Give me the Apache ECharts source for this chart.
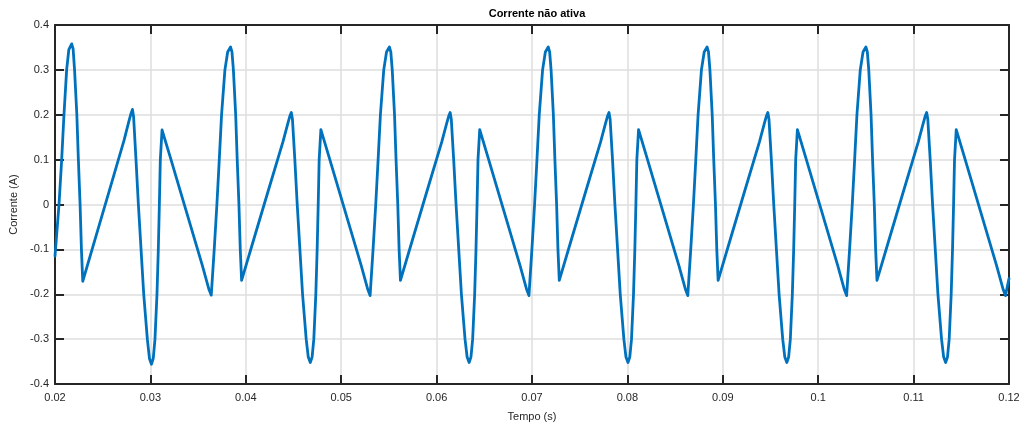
<!DOCTYPE html>
<html>
<head>
<meta charset="utf-8">
<title>Corrente não ativa</title>
<script src="https://cdn.jsdelivr.net/npm/echarts@6/dist/echarts.min.js"></script>
<style>
  html, body { margin: 0; padding: 0; background: #fff; }
  #chart { width: 1027px; height: 428px; }
</style>
</head>
<body>
<div id="chart"></div>
<script>
/* ---------- dados (tempo em s, corrente em A) ---------- */
const inicioT = [0.02000, 0.02042, 0.02070, 0.02094, 0.02122, 0.02145];
const inicioI = [-0.115, 0.000, 0.100, 0.200, 0.300, 0.345];

const ciclo1T = [0.02175, 0.02190, 0.02205, 0.02229, 0.02245, 0.02263, 0.02277, 0.02291, 0.02425, 0.02575,
                 0.02725, 0.02775, 0.02797, 0.02812, 0.02824, 0.02849, 0.02874, 0.02902, 0.02930, 0.02968, 0.02990, 0.03011,
                 0.03030, 0.03048, 0.03069, 0.03083, 0.03094, 0.03104, 0.03122, 0.03205, 0.03375, 0.03545,
                 0.03615, 0.03638, 0.03669, 0.03697, 0.03722, 0.03746, 0.03781, 0.03810];
const ciclo1I = [0.358, 0.347, 0.300, 0.200, 0.100, 0.000, -0.100, -0.171, -0.074, 0.035,
                 0.144, 0.186, 0.203, 0.212, 0.195, 0.100, 0.000, -0.100, -0.200, -0.300, -0.343, -0.356,
                 -0.343, -0.300, -0.200, -0.100, 0.000, 0.100, 0.166, 0.108, -0.014, -0.136,
                 -0.190, -0.202, -0.100, 0.000, 0.100, 0.200, 0.300, 0.340];

const ciclo2T = [0.03840, 0.03855, 0.03870, 0.03894, 0.03910, 0.03928, 0.03942, 0.03956, 0.04090, 0.04240,
                 0.04390, 0.04440, 0.04462, 0.04477, 0.04489, 0.04514, 0.04539, 0.04567, 0.04595, 0.04633, 0.04655, 0.04676,
                 0.04695, 0.04713, 0.04734, 0.04748, 0.04759, 0.04769, 0.04787, 0.04870, 0.05040, 0.05210,
                 0.05280, 0.05303, 0.05334, 0.05362, 0.05387, 0.05411, 0.05446, 0.05475];
const ciclo2I = [0.351, 0.340, 0.300, 0.200, 0.100, 0.000, -0.100, -0.169, -0.073, 0.034,
                 0.140, 0.180, 0.197, 0.205, 0.190, 0.100, 0.000, -0.100, -0.200, -0.300, -0.340, -0.352,
                 -0.340, -0.300, -0.200, -0.100, 0.000, 0.100, 0.167, 0.108, -0.014, -0.136,
                 -0.190, -0.203, -0.100, 0.000, 0.100, 0.200, 0.300, 0.340];

const ciclo3T = [0.05505, 0.05520, 0.05535, 0.05559, 0.05575, 0.05593, 0.05607, 0.05621, 0.05755, 0.05905,
                 0.06055, 0.06105, 0.06127, 0.06142, 0.06154, 0.06179, 0.06204, 0.06232, 0.06260, 0.06298, 0.06320, 0.06341,
                 0.06360, 0.06378, 0.06399, 0.06413, 0.06424, 0.06434, 0.06452, 0.06535, 0.06705, 0.06875,
                 0.06945, 0.06968, 0.06999, 0.07027, 0.07052, 0.07076, 0.07111, 0.07140];
const ciclo3I = [0.351, 0.340, 0.300, 0.200, 0.100, 0.000, -0.100, -0.169, -0.073, 0.034,
                 0.140, 0.180, 0.197, 0.205, 0.190, 0.100, 0.000, -0.100, -0.200, -0.300, -0.340, -0.352,
                 -0.340, -0.300, -0.200, -0.100, 0.000, 0.100, 0.167, 0.108, -0.014, -0.136,
                 -0.190, -0.203, -0.100, 0.000, 0.100, 0.200, 0.300, 0.340];

const ciclo4T = [0.07170, 0.07185, 0.07200, 0.07224, 0.07240, 0.07258, 0.07272, 0.07286, 0.07420, 0.07570,
                 0.07720, 0.07770, 0.07792, 0.07807, 0.07819, 0.07844, 0.07869, 0.07897, 0.07925, 0.07963, 0.07985, 0.08006,
                 0.08025, 0.08043, 0.08064, 0.08078, 0.08089, 0.08099, 0.08117, 0.08200, 0.08370, 0.08540,
                 0.08610, 0.08633, 0.08664, 0.08692, 0.08717, 0.08741, 0.08776, 0.08805];
const ciclo4I = [0.351, 0.340, 0.300, 0.200, 0.100, 0.000, -0.100, -0.169, -0.073, 0.034,
                 0.140, 0.180, 0.197, 0.205, 0.190, 0.100, 0.000, -0.100, -0.200, -0.300, -0.340, -0.352,
                 -0.340, -0.300, -0.200, -0.100, 0.000, 0.100, 0.167, 0.108, -0.014, -0.136,
                 -0.190, -0.203, -0.100, 0.000, 0.100, 0.200, 0.300, 0.340];

const ciclo5T = [0.08835, 0.08850, 0.08865, 0.08889, 0.08905, 0.08923, 0.08937, 0.08951, 0.09085, 0.09235,
                 0.09385, 0.09435, 0.09457, 0.09472, 0.09484, 0.09509, 0.09534, 0.09562, 0.09590, 0.09628, 0.09650, 0.09671,
                 0.09690, 0.09708, 0.09729, 0.09743, 0.09754, 0.09764, 0.09782, 0.09865, 0.10035, 0.10205,
                 0.10275, 0.10298, 0.10329, 0.10357, 0.10382, 0.10406, 0.10441, 0.10470];
const ciclo5I = [0.351, 0.340, 0.300, 0.200, 0.100, 0.000, -0.100, -0.169, -0.073, 0.034,
                 0.140, 0.180, 0.197, 0.205, 0.190, 0.100, 0.000, -0.100, -0.200, -0.300, -0.340, -0.352,
                 -0.340, -0.300, -0.200, -0.100, 0.000, 0.100, 0.167, 0.108, -0.014, -0.136,
                 -0.190, -0.203, -0.100, 0.000, 0.100, 0.200, 0.300, 0.340];

const ciclo6T = [0.10500, 0.10515, 0.10530, 0.10554, 0.10570, 0.10588, 0.10602, 0.10616, 0.10750, 0.10900,
                 0.11050, 0.11100, 0.11122, 0.11137, 0.11149, 0.11174, 0.11199, 0.11227, 0.11255, 0.11293, 0.11315, 0.11336,
                 0.11355, 0.11373, 0.11394, 0.11408, 0.11419, 0.11429, 0.11447, 0.11530, 0.11700, 0.11870,
                 0.11940, 0.11963, 0.12000];
const ciclo6I = [0.351, 0.340, 0.300, 0.200, 0.100, 0.000, -0.100, -0.169, -0.073, 0.034,
                 0.140, 0.180, 0.197, 0.205, 0.190, 0.100, 0.000, -0.100, -0.200, -0.300, -0.340, -0.352,
                 -0.340, -0.300, -0.200, -0.100, 0.000, 0.100, 0.167, 0.108, -0.014, -0.136,
                 -0.190, -0.203, -0.165];

/* ---------- montagem da série ---------- */
const tempo = [].concat(inicioT, ciclo1T, ciclo2T, ciclo3T, ciclo4T, ciclo5T, ciclo6T);
const corrente = [].concat(inicioI, ciclo1I, ciclo2I, ciclo3I, ciclo4I, ciclo5I, ciclo6I);
const pontos = tempo.map((t, k) => [t, corrente[k]]);

/* ---------- estilo (parecido com o MATLAB) ---------- */
const FONTE = "'Liberation Sans', Arial, sans-serif";
const COR_TEXTO = "#262626";
const COR_EIXO = "#262626";
const COR_GRADE = "#dedede";

const fmt = (v) => String(+v.toFixed(2));

const eixoBase = {
    axisLine : { show: true, onZero: false, lineStyle: { color: COR_EIXO, width: 2 } },
    axisTick : { show: true, inside: true, length: 9, lineStyle: { color: COR_EIXO, width: 2 } },
    minorTick: { show: false },
};

const chart = echarts.init(document.getElementById("chart"), null, { renderer: "canvas" });

chart.setOption({
    animation: false,
    backgroundColor: "#ffffff",
    title: {
        text: "Corrente não ativa",
        left: 532,
        top: 3,
        textAlign: "center",
        textStyle: { fontFamily: FONTE, fontSize: 11, fontWeight: "bold", color: "#000" },
    },
    grid: { left: 55, right: 18, top: 25, bottom: 44, containLabel: false },
    xAxis: [
        Object.assign({}, eixoBase, {
            type: "value",
            min: 0.02, max: 0.12, interval: 0.01,
            position: "bottom",
            name: "Tempo (s)",
            nameLocation: "middle",
            nameGap: 27,
            nameTextStyle: { fontFamily: FONTE, fontSize: 11, color: COR_TEXTO },
            axisLabel: { fontFamily: FONTE, fontSize: 11, color: COR_TEXTO, margin: 8, formatter: fmt },
            splitLine: { show: true, lineStyle: { color: COR_GRADE, width: 1.5 } },
        }),
        Object.assign({}, eixoBase, {
            type: "value",
            min: 0.02, max: 0.12, interval: 0.01,
            position: "top",
            axisLabel: { show: false },
            splitLine: { show: false },
        }),
    ],
    yAxis: [
        Object.assign({}, eixoBase, {
            type: "value",
            min: -0.4, max: 0.4, interval: 0.1,
            position: "left",
            name: "Corrente (A)",
            nameLocation: "middle",
            nameGap: 31,
            nameTextStyle: { fontFamily: FONTE, fontSize: 11, color: COR_TEXTO },
            axisLabel: { fontFamily: FONTE, fontSize: 11, color: COR_TEXTO, margin: 6, formatter: fmt },
            splitLine: { show: true, lineStyle: { color: COR_GRADE, width: 1.5 } },
        }),
        Object.assign({}, eixoBase, {
            type: "value",
            min: -0.4, max: 0.4, interval: 0.1,
            position: "right",
            axisLabel: { show: false },
            splitLine: { show: false },
        }),
    ],
    series: [{
        name: "Corrente",
        type: "line",
        data: pontos,
        xAxisIndex: 0,
        yAxisIndex: 0,
        showSymbol: false,
        clip: true,
        lineStyle: { color: "#0072BD", width: 2.8, join: "round", cap: "round" },
        z: 5,
    }],
});
</script>
</body>
</html>
